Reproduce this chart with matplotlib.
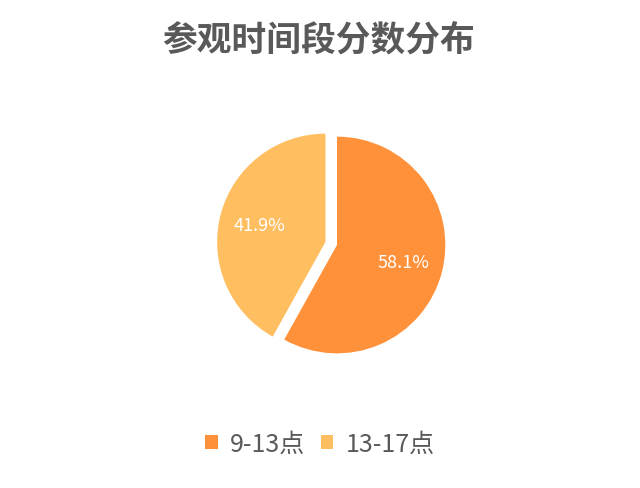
import matplotlib.pyplot as plt
from matplotlib.patches import Patch

plt.rcParams['font.family'] = ['Noto Sans CJK SC', 'DejaVu Sans']

# 数据
labels = ["9-13点", "13-17点"]
values = [58.1, 41.9]
colors = ["#FF913A", "#FFBE60"]
explode = [0, 0.11]

W, H = 640, 489
fig = plt.figure(figsize=(W / 100, H / 100), dpi=100)

# 饼图区域 (中心约在 337,246 像素, 半径约 108 像素)
cx, cy, half = 337, 246, 130
ax = fig.add_axes([(cx - half) / W, (H - cy - half) / H, 2 * half / W, 2 * half / H])
wedges, texts, autotexts = ax.pie(
    values, colors=colors, explode=explode, startangle=90, counterclock=False,
    autopct="%.1f%%", pctdistance=0.63, radius=1,
    wedgeprops=dict(linewidth=0),
    textprops=dict(color="white", fontsize=13),
)
ax.set_xlim(-1.2, 1.2)
ax.set_ylim(-1.2, 1.2)
ax.set_aspect("equal")
ax.axis("off")

fig.text(0.497, 1 - 40 / H, "参观时间段分数分布", ha="center", va="center",
         fontsize=25, fontweight="bold", color="#595959")

handles = [Patch(facecolor=c, edgecolor="none") for c in colors]
fig.legend(handles, labels, loc="center", bbox_to_anchor=(0.5, 1 - 445 / H),
           ncol=2, frameon=False, fontsize=18, labelcolor="#595959",
           handlelength=0.5, handleheight=0.5, handletextpad=0.5, columnspacing=0.6)

fig.savefig("out.png", dpi=100)
